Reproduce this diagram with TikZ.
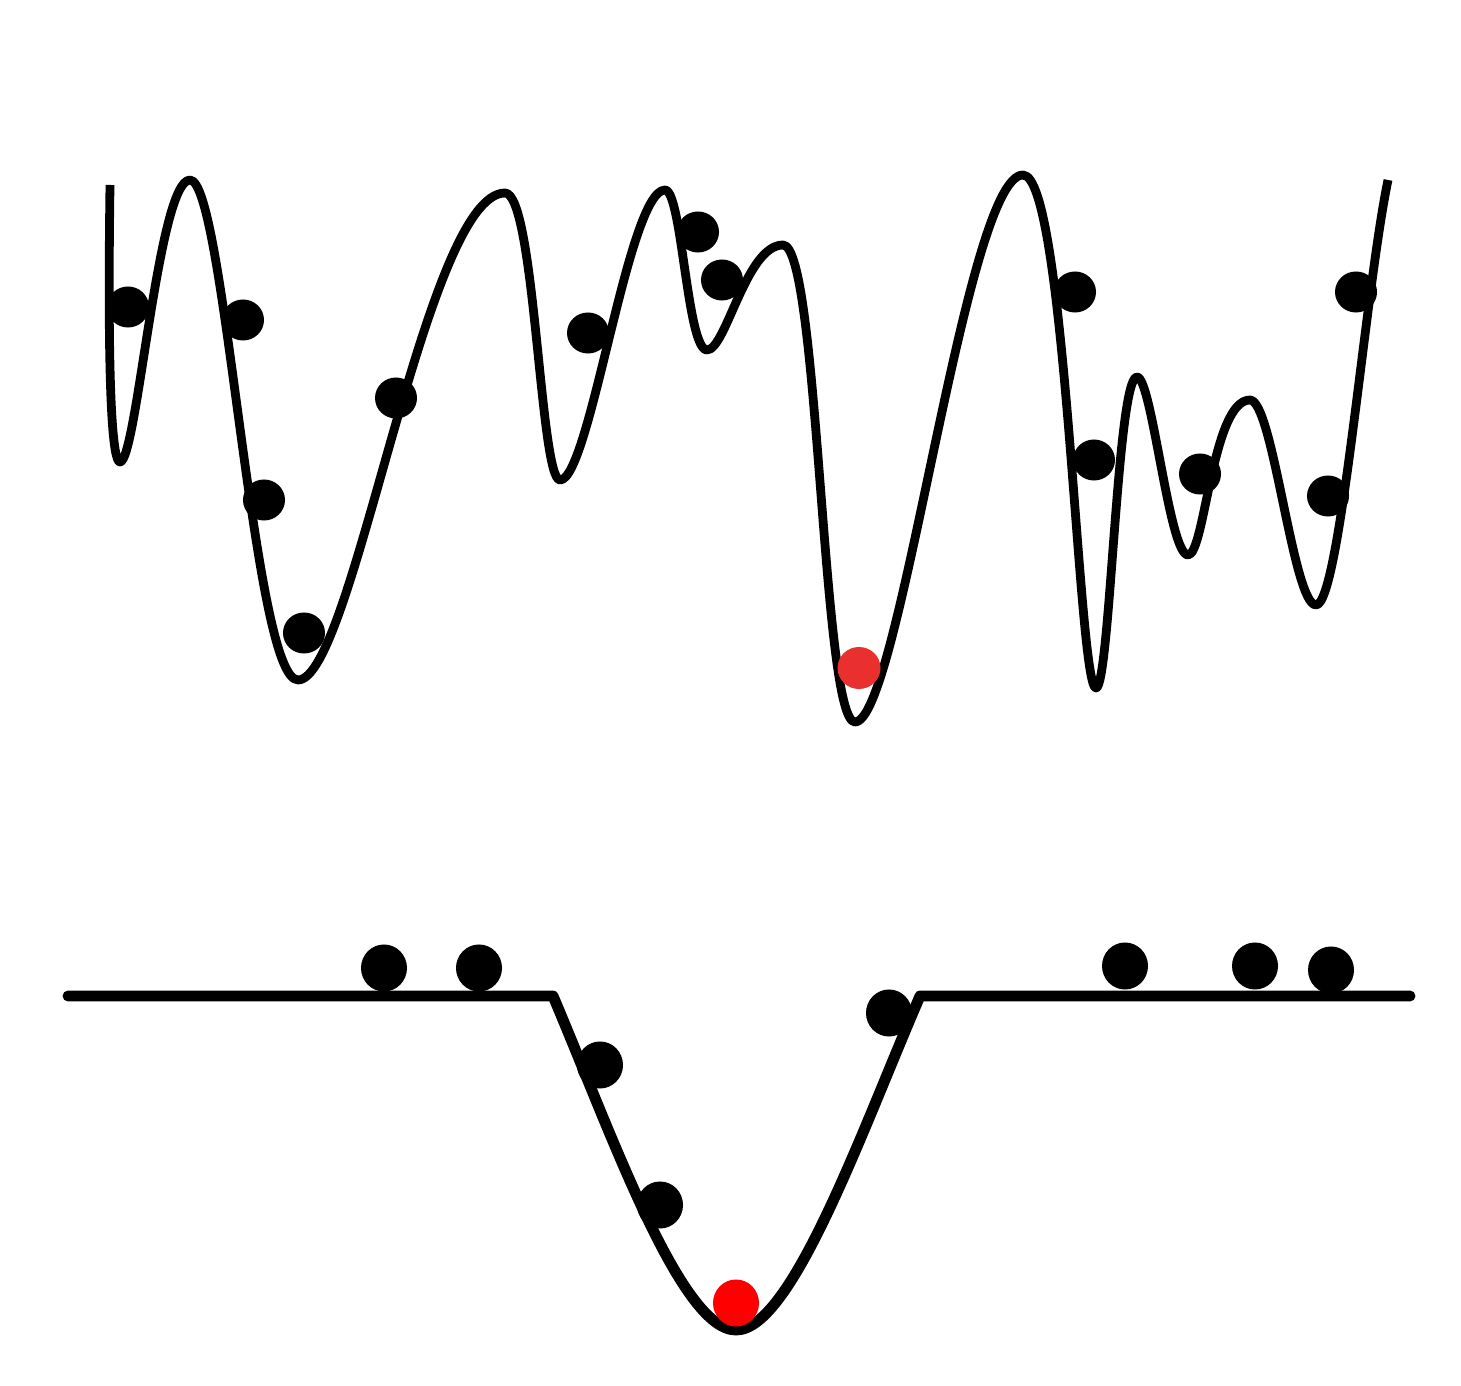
\documentclass[tikz,border=0pt]{standalone}
\usepackage{xcolor}
\definecolor{topred}{RGB}{234,48,46}
\definecolor{botred}{RGB}{255,0,0}
\begin{document}
\begin{tikzpicture}[x=0.01cm,y=-0.01cm,
  curve/.style={line width=2.5pt, line join=round},
  ground/.style={line width=3.1pt, line cap=round, line join=round},
  balltop/.style={fill=black},
  ballbot/.style={fill=black}]
\useasboundingbox (0,0) rectangle (1461,1386);
\fill[white] (0,0) rectangle (1461,1386);

% top energy landscape
\draw[curve] (110,185)
  .. controls (107,400) and (113,462) .. (120,462)
  .. controls (137,462) and (158,180) .. (190,180)
  .. controls (225,180) and (253,680) .. (298,680)
  .. controls (353,680) and (425,193) .. (505,193)
  .. controls (535,193) and (540,480) .. (560,480)
  .. controls (590,480) and (628,190) .. (665,190)
  .. controls (682,190) and (687,350) .. (707,350)
  .. controls (726,350) and (746,245) .. (783,245)
  .. controls (819,245) and (822,722) .. (855,722)
  .. controls (900,722) and (965,175) .. (1023,175)
  .. controls (1066,175) and (1078,688) .. (1096,688)
  .. controls (1110,688) and (1117,377) .. (1137,377)
  .. controls (1152,377) and (1169,555) .. (1188,555)
  .. controls (1205,555) and (1212,400) .. (1250,400)
  .. controls (1273,400) and (1293,605) .. (1316,605)
  .. controls (1340,605) and (1365,290) .. (1388,180);

\foreach \p in {(128,307),(243,320),(264,500),(304,633),(396,398),(588,333),
  (698,232),(722,280),(1075,292),(1094,460),(1200,474),(1328,496),(1356,292)}
  \fill[balltop] \p ellipse [x radius=0.21cm, y radius=0.205cm];
\fill[topred] (859,668) ellipse [x radius=0.215cm, y radius=0.21cm];

% bottom landscape
\draw[ground] (68,996) -- (553,996)
  .. controls (610,1130) and (680,1330) .. (736,1330)
  .. controls (792,1330) and (862,1130) .. (920,996) -- (1410,996);

\foreach \p in {(384,968),(479,968),(600,1065),(660,1205),(889,1013),
  (1125,966),(1255,966),(1331,970)}
  \fill[ballbot] \p ellipse [x radius=0.23cm, y radius=0.235cm];
\fill[botred] (736,1303) ellipse [x radius=0.23cm, y radius=0.235cm];
\end{tikzpicture}
\end{document}
